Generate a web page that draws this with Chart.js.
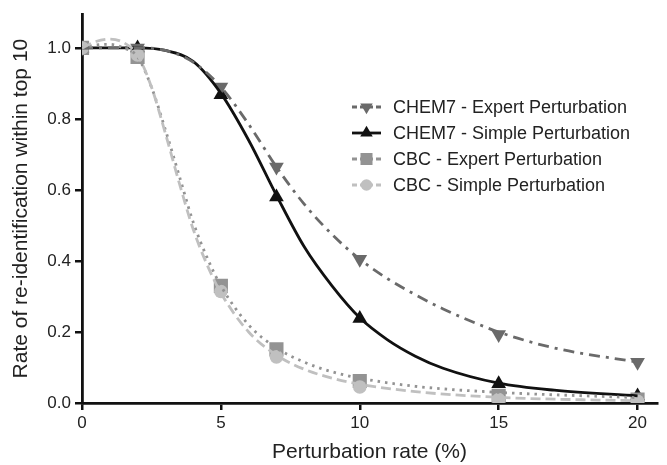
<!DOCTYPE html>
<html>
<head>
<meta charset="utf-8">
<script src="https://cdn.jsdelivr.net/npm/chart.js@4"></script>
<style>
html,body{margin:0;padding:0;background:#fff;}
#wrap{width:667px;height:465px;position:relative;}
</style>
</head>
<body>
<div id="wrap"><canvas id="c" width="667" height="465"></canvas></div>
<script>
// Measured points
const pointX = [0, 2, 5, 7, 10, 15, 20];
const chem7Expert = [1.0, 1.0, 0.89, 0.665, 0.405, 0.193, 0.115];
const chem7Simple = [1.0, 1.0, 0.868, 0.58, 0.238, 0.054, 0.02];
const cbcExpert = [1.0, 0.975, 0.33, 0.151, 0.062, 0.02, 0.01];
const cbcSimple = [1.0, 0.98, 0.314, 0.13, 0.045, 0.01, 0.005];

// Fitted curves
const chem7ExpertCurveX = [0, 1, 2, 3, 4, 5, 6, 7, 8, 9, 10, 11, 12, 13, 15, 17, 20];
const chem7ExpertCurveY = [1.0, 1.0, 1.0, 0.993, 0.96, 0.89, 0.785, 0.665, 0.56, 0.475, 0.405, 0.35, 0.305, 0.265, 0.2, 0.155, 0.115];
const chem7SimpleCurveX = [0, 1, 2, 3, 4, 5, 6, 7, 8, 9, 10, 11, 12, 13, 15, 17, 20];
const chem7SimpleCurveY = [1.0, 1.0, 1.0, 0.993, 0.962, 0.872, 0.74, 0.585, 0.44, 0.33, 0.24, 0.178, 0.132, 0.098, 0.056, 0.036, 0.02];
const cbcExpertCurveX = [0, 0.5, 1, 1.5, 2, 2.5, 3, 3.5, 4, 4.5, 5, 6, 7, 8, 9, 10, 12, 15, 20];
const cbcExpertCurveY = [1.0, 1.008, 1.01, 1.0, 0.975, 0.89, 0.77, 0.64, 0.51, 0.41, 0.33, 0.22, 0.155, 0.115, 0.088, 0.07, 0.047, 0.03, 0.015];
const cbcSimpleCurveX = [0, 0.5, 1, 1.5, 2, 2.5, 3, 3.5, 4, 4.5, 5, 6, 7, 8, 9, 10, 12, 15, 20];
const cbcSimpleCurveY = [1.0, 1.018, 1.025, 1.015, 0.98, 0.89, 0.76, 0.62, 0.49, 0.39, 0.31, 0.2, 0.135, 0.095, 0.07, 0.053, 0.032, 0.016, 0.006];

const seriesLabels = ['CHEM7 - Expert Perturbation', 'CHEM7 - Simple Perturbation', 'CBC - Expert Perturbation', 'CBC - Simple Perturbation'];
const xTicks = [0, 5, 10, 15, 20];
const yTicks = [0, 0.2, 0.4, 0.6, 0.8, 1.0];

const FONT = '"Liberation Sans", Arial, sans-serif';
const styles = [
  {color:'#6a6a6a', dash:[11,6,3,6], style:'triangle', rot:180, r:8.5},
  {color:'#111111', dash:[], style:'triangle', rot:0, r:8.5},
  {color:'#939393', dash:[2.5,5], style:'rect', rot:0, r:10},
  {color:'#c0c0c0', dash:[10,5], style:'circle', rot:0, r:6.8}
];

const curves = [
  [chem7ExpertCurveX, chem7ExpertCurveY],
  [chem7SimpleCurveX, chem7SimpleCurveY],
  [cbcExpertCurveX, cbcExpertCurveY],
  [cbcSimpleCurveX, cbcSimpleCurveY]
];
const pts = [chem7Expert, chem7Simple, cbcExpert, cbcSimple];

const datasets = [];
[3,2,0,1].forEach(i => {
  datasets.push({
    label: seriesLabels[i] + ' curve',
    data: curves[i][0].map((x, k) => ({x: x, y: curves[i][1][k]})),
    showLine: true,
    borderColor: styles[i].color,
    backgroundColor: styles[i].color,
    borderWidth: 2.8,
    borderDash: styles[i].dash,
    pointRadius: 0,
    pointHoverRadius: 0,
    tension: 0.4,
    cubicInterpolationMode: 'monotone',
    fill: false
  });
});
[3,2,0,1].forEach(i => {
  datasets.push({
    label: seriesLabels[i],
    data: pointX.map((x, k) => ({x: x, y: pts[i][k]})),
    showLine: false,
    pointStyle: styles[i].style,
    rotation: styles[i].rot,
    pointRadius: styles[i].r,
    pointHoverRadius: styles[i].r,
    pointBackgroundColor: styles[i].color,
    pointBorderColor: styles[i].color,
    pointBorderWidth: 0,
    borderColor: styles[i].color
  });
});

const legendPlugin = {
  id: 'customLegend',
  afterDraw(chart) {
    const ctx = chart.ctx;
    const x0 = 352, x1 = 381, tx = 393;
    const ys = [107, 133, 159, 185];
    ctx.save();
    seriesLabels.forEach((lab, i) => {
      const s = styles[i];
      const y = ys[i];
      ctx.strokeStyle = s.color;
      ctx.lineWidth = 2.8;
      ctx.setLineDash(s.dash.length ? [5, 3] : []);
      ctx.beginPath(); ctx.moveTo(x0, y); ctx.lineTo(x1, y); ctx.stroke();
      ctx.setLineDash([]);
      ctx.fillStyle = s.color;
      Chart.helpers.drawPoint(ctx, {pointStyle: s.style, rotation: s.rot, radius: s.r * 0.85, borderWidth: 0}, (x0 + x1) / 2, y);
      ctx.fillStyle = '#222';
      ctx.font = '18px ' + FONT;
      ctx.textBaseline = 'middle';
      ctx.textAlign = 'left';
      ctx.fillText(lab, tx, y + 1);
    });
    ctx.restore();
  }
};

new Chart(document.getElementById('c'), {
  type: 'scatter',
  data: {datasets},
  plugins: [legendPlugin],
  options: {
    responsive: false,
    animation: false,
    layout: {padding: {top: 12, right: 7, left: 0, bottom: 0}},
    plugins: {legend: {display: false}, tooltip: {enabled: false}},
    scales: {
      x: {
        type: 'linear',
        min: 0, max: 20.7,
        afterBuildTicks: s => { s.ticks = xTicks.map(v => ({value: v})); },
        afterFit: s => { s.height = 62; },
        grid: {drawOnChartArea: false, drawTicks: true, tickLength: 7, color: '#111', lineWidth: 2.5},
        border: {display: true, color: '#111', width: 2.8},
        ticks: {color: '#222', font: {size: 17, family: FONT}, padding: 3},
        title: {display: true, text: 'Perturbation rate (%)', color: '#222', font: {size: 21, family: FONT}, padding: {top: 0, bottom: 0}}
      },
      y: {
        type: 'linear',
        min: 0, max: 1.095,
        afterBuildTicks: s => { s.ticks = yTicks.map(v => ({value: v})); },
        afterFit: s => { s.width = 82; },
        grid: {drawOnChartArea: false, drawTicks: true, tickLength: 7, color: '#111', lineWidth: 2.5},
        border: {display: true, color: '#111', width: 2.8},
        ticks: {color: '#222', font: {size: 17, family: FONT}, padding: 4, callback: v => v.toFixed(1)},
        title: {display: true, text: 'Rate of re-identification within top 10', color: '#222', font: {size: 21, family: FONT}, padding: {top: 9, bottom: 0}}
      }
    }
  }
});
</script>
</body>
</html>
